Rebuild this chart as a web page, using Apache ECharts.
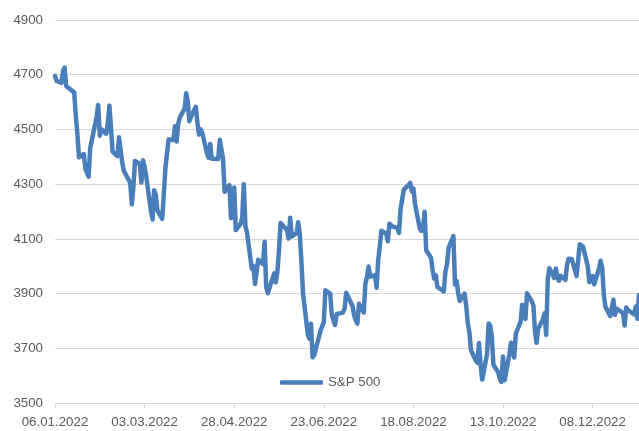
<!DOCTYPE html>
<html>
<head>
<meta charset="utf-8">
<script src="https://cdn.jsdelivr.net/npm/echarts@6/dist/echarts.min.js"></script>
<style>
html,body{margin:0;padding:0;background:#ffffff;}
#chart{width:639px;height:431px;}
</style>
</head>
<body>
<div id="chart"></div>
<script>
// ---- data ----
const seriesName = 'S&P 500';
const startDate = '2022-01-06';
const endDate = '2023-01-06';
const marketHolidays = ['2022-01-17','2022-02-21','2022-04-15','2022-05-30','2022-06-20','2022-07-04','2022-09-05','2022-11-24','2022-12-26','2023-01-02'];
const xTickLabels = ['06.01.2022','03.03.2022','28.04.2022','23.06.2022','18.08.2022','13.10.2022','08.12.2022'];
const yTickLabels = [3500,3700,3900,4100,4300,4500,4700,4900];

const closesJan22 = [4696,4677,4670,4713,4726,4659,4663,4635,4550,4483,4398,4410,4356,4350,4327,4432,4516];
const closesFeb22 = [4547,4589,4477,4501,4484,4522,4587,4504,4419,4402,4471,4475,4380,4349,4305,4226,4289,4385,4374];
const closesMar22 = [4306,4387,4363,4329,4201,4171,4278,4260,4204,4173,4262,4358,4412,4463,4461,4512,4456,4520,4543,4576,4632,4602,4530];
const closesApr22 = [4546,4583,4525,4481,4500,4488,4413,4397,4447,4393,4392,4462,4459,4394,4272,4296,4175,4184,4288,4132];
const closesMay22 = [4155,4175,4300,4147,4123,3991,4001,3935,3930,4024,4008,4089,3924,3901,3901,3974,3941,3979,4058,4158,4132];
const closesJun22 = [4101,4177,4109,4121,4161,4116,4018,3901,3750,3735,3790,3667,3675,3765,3760,3796,3912,3900,3822,3819,3785];
const closesJul22 = [3825,3831,3845,3903,3899,3854,3819,3802,3790,3863,3831,3937,3960,3999,3962,3967,3921,4024,4072,4130];
const closesAug22 = [4119,4091,4155,4152,4145,4140,4122,4210,4207,4280,4297,4305,4274,4284,4228,4138,4129,4141,4199,4058,4031,3986,3955];
const closesSep22 = [3967,3924,3908,3980,4006,4067,4110,3933,3946,3901,3873,3900,3856,3790,3758,3693,3655,3647,3719,3640,3586];
const closesOct22 = [3678,3791,3783,3745,3640,3612,3589,3577,3670,3583,3678,3720,3695,3666,3753,3797,3859,3831,3807,3901,3872];
const closesNov22 = [3856,3760,3720,3771,3807,3828,3749,3956,3993,3957,3992,3959,3947,3965,3950,4004,4027,4026,3964,3958,4080];
const closesDec22 = [4077,4072,3999,3941,3934,3964,3934,3991,4020,3995,3896,3852,3818,3822,3878,3822,3845,3829,3783,3849,3840];
const closesJan23 = [3824,3853,3808,3895];

// ---- build ----
const DAY = 86400000;
function parseISO(s){const p=s.split('-').map(Number);return Date.UTC(p[0],p[1]-1,p[2]);}
function parseDMY(s){const p=s.split('.').map(Number);return Date.UTC(p[2],p[1]-1,p[0]);}
function pad(n){return (n<10?'0':'')+n;}
const t0 = parseDMY(xTickLabels[0]);
const tickStep = (parseDMY(xTickLabels[1]) - t0) / DAY;
const tradingDays = [];
for (let t = parseISO(startDate); t <= parseISO(endDate); t += DAY) {
  const d = new Date(t);
  const wd = d.getUTCDay();
  if (wd === 0 || wd === 6) continue;
  if (marketHolidays.indexOf(d.toISOString().slice(0,10)) >= 0) continue;
  tradingDays.push(t);
}
const closes = [].concat(closesJan22,closesFeb22,closesMar22,closesApr22,closesMay22,closesJun22,closesJul22,closesAug22,closesSep22,closesOct22,closesNov22,closesDec22,closesJan23);
const n = Math.min(tradingDays.length, closes.length);
const points = [];
for (let i = 0; i < n; i++) points.push([(tradingDays[i]-t0)/DAY, closes[i]]);

const labelFont = {fontFamily:'"Liberation Sans", Arial, sans-serif', fontSize:13.3, color:'#595959'};
const chart = echarts.init(document.getElementById('chart'), null, {renderer:'canvas'});
chart.setOption({
  animation:false,
  backgroundColor:'#ffffff',
  grid:{left:55,right:0,top:20,bottom:28,containLabel:false},
  legend:{
    data:[seriesName],
    left:275, top:371,
    icon:'roundRect', itemWidth:43, itemHeight:4.5,
    textStyle:Object.assign({}, labelFont)
  },
  xAxis:{
    type:'value',
    min:0,
    max:(parseISO(endDate)-t0)/DAY,
    interval:tickStep,
    axisLine:{show:true,lineStyle:{color:'#d9d9d9',width:1}},
    axisTick:{show:true,length:5,lineStyle:{color:'#d9d9d9'}},
    splitLine:{show:false},
    axisLabel:Object.assign({
      margin:13,
      showMaxLabel:false,
      formatter:function(v){const d=new Date(t0+v*DAY);return pad(d.getUTCDate())+'.'+pad(d.getUTCMonth()+1)+'.'+d.getUTCFullYear();}
    }, labelFont)
  },
  yAxis:{
    type:'value',
    min:yTickLabels[0],
    max:yTickLabels[yTickLabels.length-1],
    interval:yTickLabels[1]-yTickLabels[0],
    axisLine:{show:false},
    axisTick:{show:false},
    splitLine:{show:true,lineStyle:{color:'#d9d9d9',width:1}},
    axisLabel:Object.assign({margin:12, formatter:function(v){return String(v);}}, labelFont)
  },
  series:[{
    name:seriesName,
    type:'line',
    data:points,
    symbol:'none',
    showSymbol:false,
    color:'#4a7ebb',
    lineStyle:{width:4.5,color:'#4a7ebb',cap:'round',join:'round'},
    clip:true
  }]
});
</script>
</body>
</html>
